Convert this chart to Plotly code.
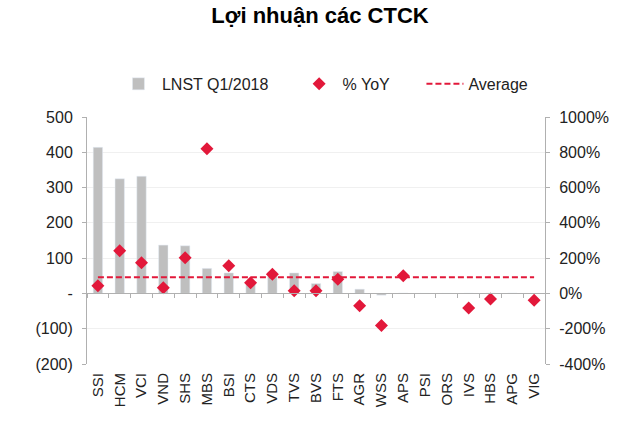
import plotly.graph_objects as go

categories = ["SSI", "HCM", "VCI", "VND", "SHS", "MBS", "BSI", "CTS", "VDS", "TVS", "BVS",
              "FTS", "AGR", "WSS", "APS", "PSI", "ORS", "IVS", "HBS", "APG", "VIG"]
profit = [414, 325, 332, 137, 135, 71, 58, 35, 61, 58, 28, 62, 12, -5, 1, 0, 0, 0.5, 1, 1, 0]
yoy = [43, 242, 174, 32, 202, 820, 157, 60, 108, 15, 15, 81, -70, -182, 100,
       None, None, -82, -32, None, -38]
average_yoy = 91

left_ticks = [500, 400, 300, 200, 100, 0, -100, -200]
left_text = ["500", "400", "300", "200", "100", "-", "(100)", "(200)"]
right_ticks = [1000, 800, 600, 400, 200, 0, -200, -400]
right_text = ["1000%", "800%", "600%", "400%", "200%", "0%", "-200%", "-400%"]

RED = "#e2183a"
GREY = "#bfbfbf"
AX = "#b0b0b0"
FONT = "Liberation Sans, Arial, sans-serif"
NB = "\u00a0"

fig = go.Figure()
fig.add_trace(go.Bar(x=categories, y=profit, name="LNST Q1/2018" + NB * 5,
                     marker=dict(color=GREY), yaxis="y"))
fig.add_trace(go.Scatter(x=categories, y=yoy, name="% YoY" + NB * 6, mode="markers",
                         marker=dict(symbol="diamond", color=RED, size=10),
                         yaxis="y2"))
fig.add_trace(go.Scatter(x=categories, y=[average_yoy] * len(categories), name="Average",
                         mode="lines", line=dict(color=RED, width=2, dash="6px,3px"),
                         yaxis="y2"))
# invisible helper trace for the zero-line axis with boundary ticks
fig.add_trace(go.Scatter(x=categories, y=[None] * len(categories), xaxis="x2", yaxis="y",
                         showlegend=False, hoverinfo="skip"))

fig.update_layout(
    width=640, height=424,
    margin=dict(l=87, r=95, t=117, b=60),
    paper_bgcolor="white", plot_bgcolor="white",
    font=dict(family=FONT, size=14, color="#222222"),
    title=dict(text="<b>Lợi nhuận các CTCK</b>", x=0.5, xanchor="center",
               y=0.965, yanchor="middle", font=dict(size=22, color="#000000")),
    bargap=0.57,
    showlegend=True,
    legend=dict(orientation="h", x=0.061, xanchor="left", y=1.134, yanchor="middle",
                font=dict(size=16, color="#222222"), traceorder="normal",
                itemwidth=37, bgcolor="rgba(0,0,0,0)"),
    xaxis=dict(categoryorder="array", categoryarray=categories, range=[-0.5, 20.5],
               showline=False, ticks="", tickangle=-90, tickfont=dict(size=15),
               ticklabelstandoff=5, showgrid=False, zeroline=False),
    xaxis2=dict(categoryorder="array", categoryarray=categories, range=[-0.5, 20.5],
                overlaying="x", anchor="free", position=2 / 7, showline=True,
                linecolor=AX, linewidth=1, ticks="outside", tickson="boundaries",
                ticklen=4, tickcolor=AX, showticklabels=False, showgrid=False,
                zeroline=False),
    yaxis=dict(range=[-200, 500], tickvals=left_ticks, ticktext=left_text,
               showline=True, linecolor=AX, linewidth=1, ticks="outside", ticklen=4,
               tickcolor=AX, showgrid=True, gridcolor="#f0f0f0", zeroline=False,
               tickfont=dict(size=16), ticklabelstandoff=6),
    yaxis2=dict(range=[-400, 1000], tickvals=right_ticks, ticktext=right_text,
                overlaying="y", side="right", anchor="x", showline=True, linecolor=AX,
                linewidth=1, ticks="outside", ticklen=4, tickcolor=AX, showgrid=False,
                zeroline=False, tickfont=dict(size=16), ticklabelstandoff=6),
)

fig.write_html("out.html", config={"displayModeBar": False},
               post_script="document.body.style.margin='0';")
